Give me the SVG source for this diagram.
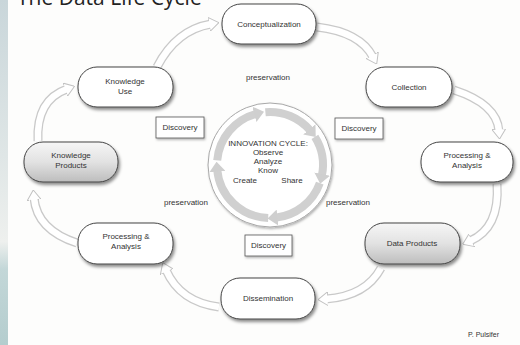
<svg xmlns="http://www.w3.org/2000/svg" width="520" height="345" viewBox="0 0 520 345">
  <defs>
    <linearGradient id="strip" x1="0" y1="0" x2="0" y2="1">
      <stop offset="0" stop-color="#c9d6da"/>
      <stop offset="0.45" stop-color="#dfe6e6"/>
      <stop offset="0.7" stop-color="#eef0ee"/>
      <stop offset="0.78" stop-color="#c3d7d8"/>
      <stop offset="1" stop-color="#b4cdce"/>
    </linearGradient>
    <linearGradient id="grayNode" x1="0" y1="0" x2="0" y2="1">
      <stop offset="0" stop-color="#f6f6f6"/>
      <stop offset="0.5" stop-color="#e2e2e2"/>
      <stop offset="1" stop-color="#bdbdbd"/>
    </linearGradient>
    <linearGradient id="ringGrad" x1="0" y1="0" x2="1" y2="1">
      <stop offset="0" stop-color="#e2e2e2"/>
      <stop offset="1" stop-color="#c4c4c4"/>
    </linearGradient>
    <filter id="shadow" x="-20%" y="-30%" width="140%" height="170%">
      <feDropShadow dx="1.5" dy="2.5" stdDeviation="1.4" flood-color="#000" flood-opacity="0.45"/>
    </filter>
    <filter id="softShadow" x="-20%" y="-30%" width="140%" height="170%">
      <feDropShadow dx="1" dy="1.5" stdDeviation="1" flood-color="#000" flood-opacity="0.3"/>
    </filter>
    <marker id="head" viewBox="0 0 10 14" refX="2" refY="7" markerWidth="10" markerHeight="14" markerUnits="userSpaceOnUse" orient="auto">
      <path d="M0,0 L10,7 L0,14 Z" fill="#ffffff" stroke="#c2c2c2" stroke-width="1" stroke-linejoin="round"/>
    </marker>
    <marker id="ringHead" viewBox="0 0 10 16" refX="2" refY="8" markerWidth="10" markerHeight="16" markerUnits="userSpaceOnUse" orient="auto">
      <path d="M0,0 L10,8 L0,16 Z" fill="#cfcfcf"/>
    </marker>
  </defs>
  <style>
    .pill { fill: #ffffff; stroke: #444444; stroke-width: 1; filter: url(#shadow); }
    .pill.gray { fill: url(#grayNode); }
    .box { fill: #ffffff; stroke: #555555; stroke-width: 0.8; filter: url(#softShadow); }
    .lbl { font-family: "Liberation Sans", Arial, sans-serif; font-size: 8px; fill: #333333; text-anchor: middle; }
    .note { font-family: "Liberation Sans", Arial, sans-serif; font-size: 8px; fill: #333333; text-anchor: middle; }
    .outline { fill: none; stroke: #c9c9c9; stroke-width: 9; marker-end: url(#head); }
    .inner { fill: none; stroke: #ffffff; stroke-width: 6.5; }
    .ring { fill: none; stroke: #d0d0d0; stroke-width: 8; marker-end: url(#ringHead); }
  </style>

  <!-- page background -->
  <rect x="0" y="0" width="520" height="345" fill="#fdfdfc"/>
  <rect x="0" y="0" width="8" height="345" fill="url(#strip)"/>

  <!-- title -->
  <text x="17" y="5" font-family="'Open Sans', 'Liberation Sans', sans-serif" font-size="21" fill="#222222">The Data Life Cycle</text>

  <!-- connectors between stages -->
  <g id="connectors">
    <path class="outline" d="M157,67 Q176,30 211,24"/>
    <path class="inner" d="M157,67 Q176,30 211,24"/>
    <path class="outline" d="M317,27 Q360,32 373,57"/>
    <path class="inner" d="M317,27 Q360,32 373,57"/>
    <path class="outline" d="M454,90 Q497,104 499,131"/>
    <path class="inner" d="M454,90 Q497,104 499,131"/>
    <path class="outline" d="M497,184 Q500,228 470,241"/>
    <path class="inner" d="M497,184 Q500,228 470,241"/>
    <path class="outline" d="M381,268 Q366,296 326,299"/>
    <path class="inner" d="M381,268 Q366,296 326,299"/>
    <path class="outline" d="M219,307 Q180,302 166,270"/>
    <path class="inner" d="M219,307 Q180,302 166,270"/>
    <path class="outline" d="M77,243 Q37,230 34,198"/>
    <path class="inner" d="M77,243 Q37,230 34,198"/>
    <path class="outline" d="M38,141 Q36,100 67,89"/>
    <path class="inner" d="M38,141 Q36,100 67,89"/>
  </g>

  <!-- stages -->
  <g id="conceptualization">
    <rect class="pill" x="222" y="4" width="94" height="40" rx="19"/>
    <text class="lbl" x="269" y="27">Conceptualization</text>
  </g>
  <g id="collection">
    <rect class="pill" x="366" y="67" width="86" height="40" rx="19"/>
    <text class="lbl" x="409" y="90">Collection</text>
  </g>
  <g id="processing-right">
    <rect class="pill" x="421" y="142" width="92" height="40" rx="19"/>
    <text class="lbl" x="467" y="158">Processing &amp;</text>
    <text class="lbl" x="467" y="168">Analysis</text>
  </g>
  <g id="data-products">
    <rect class="pill gray" x="365" y="223" width="95" height="41" rx="19"/>
    <text class="lbl" x="412" y="246">Data Products</text>
  </g>
  <g id="dissemination">
    <rect class="pill" x="221" y="278" width="94" height="41" rx="19"/>
    <text class="lbl" x="268" y="301">Dissemination</text>
  </g>
  <g id="processing-left">
    <rect class="pill" x="78" y="223" width="95" height="41" rx="19"/>
    <text class="lbl" x="126" y="239">Processing &amp;</text>
    <text class="lbl" x="126" y="249">Analysis</text>
  </g>
  <g id="knowledge-products">
    <rect class="pill gray" x="24" y="142" width="94" height="40" rx="19"/>
    <text class="lbl" x="71" y="158">Knowledge</text>
    <text class="lbl" x="71" y="168">Products</text>
  </g>
  <g id="knowledge-use">
    <rect class="pill" x="78" y="67" width="95" height="40" rx="19"/>
    <text class="lbl" x="125" y="84">Knowledge</text>
    <text class="lbl" x="125" y="94">Use</text>
  </g>

  <!-- discovery tags -->
  <g id="discovery-left">
    <rect class="box" x="156" y="117" width="48" height="21"/>
    <text class="lbl" x="180" y="130">Discovery</text>
  </g>
  <g id="discovery-right">
    <rect class="box" x="335" y="118" width="48" height="21"/>
    <text class="lbl" x="359" y="131">Discovery</text>
  </g>
  <g id="discovery-bottom">
    <rect class="box" x="245" y="235" width="47" height="21"/>
    <text class="lbl" x="268.5" y="248">Discovery</text>
  </g>

  <!-- preservation labels -->
  <text class="note" x="268" y="80">preservation</text>
  <text class="note" x="186" y="205">preservation</text>
  <text class="note" x="348" y="205">preservation</text>

  <!-- innovation cycle -->
  <g id="innovation-cycle">
    <circle cx="270" cy="165" r="62" fill="#ffffff" stroke="#a8a8a8" stroke-width="1" filter="url(#softShadow)"/>
    <path class="ring" d="M217.2,160.4 A53,53 0 0 1 256.3,113.8"/>
    <path class="ring" d="M265.4,112.2 A53,53 0 0 1 310.6,130.9"/>
    <path class="ring" d="M314.9,136.9 A53,53 0 0 1 321.8,176.0"/>
    <path class="ring" d="M319.8,183.1 A53,53 0 0 1 275.5,217.7"/>
    <path class="ring" d="M268.2,218.0 A53,53 0 0 1 217.2,169.6"/>
    <text class="lbl" x="268" y="146">INNOVATION CYCLE:</text>
    <text class="lbl" x="268" y="155">Observe</text>
    <text class="lbl" x="268" y="164">Analyze</text>
    <text class="lbl" x="268" y="173">Know</text>
    <text class="lbl" x="245" y="183">Create</text>
    <text class="lbl" x="292" y="183">Share</text>
  </g>

  <!-- credit -->
  <text x="468" y="337" font-family="'Liberation Sans', Arial, sans-serif" font-size="7" fill="#333333">P. Pulsifer</text>
</svg>
